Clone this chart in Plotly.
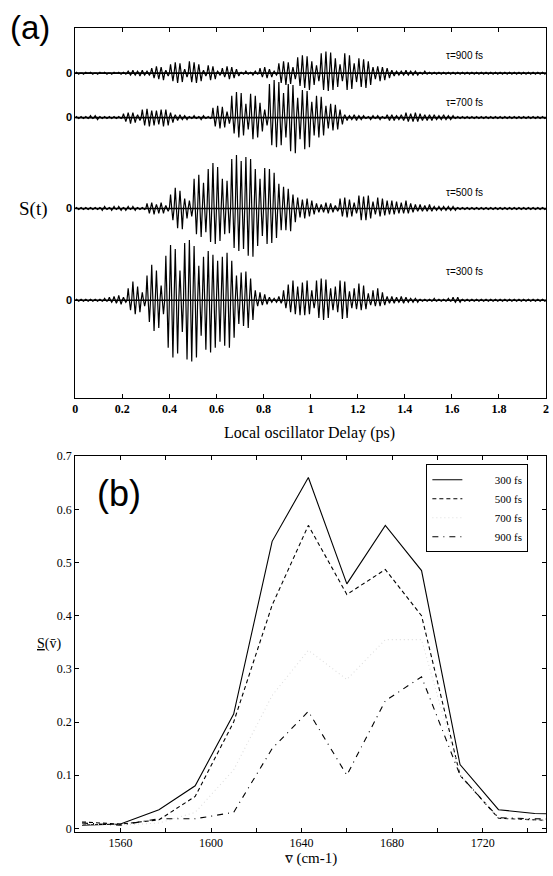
import plotly.graph_objects as go

# ---------------- Panel (a) data: spike envelopes (pixel-like units) every 0.02 ps ----------------
t_step = 0.02
taus = ["900", "700", "500", "300"]
offsets = [329, 284, 192, 99]          # zero baselines of each trace (axis units)
label_y = [347, 299, 208, 128]

up900 = [1,0,1,1,0,1,1,0,1,1, 1,2,3,2,3,2,5,7,6,3, 9,11,10,4,12,11,9,3,8,7, 2,5,7,6,4,1,2,1,2,5,
         6,4,2,10,12,11,6,16,18,17, 12,8,20,22,21,15,9,20,18,10, 15,14,12,6,7,6,5,3,2,2,
         3,2,2,1,2,1,1,1,1,1, 1,1,1,1,1,1,1,1,1,1, 1,1,1,1,1,1,1,1,1,1]
dn900 = [1,1,0,1,1,0,1,1,0,1, 1,2,2,3,2,2,5,6,7,3, 8,10,9,4,9,10,8,3,7,6, 2,4,6,5,3,1,1,2,1,4,
         5,4,2,10,12,11,6,13,15,17, 12,8,17,18,17,14,8,17,16,9, 14,15,12,6,8,7,5,3,2,2,
         2,2,2,1,1,1,1,1,1,1, 1,1,1,1,1,1,1,1,1,1, 1,1,1,1,1,1,1,1,1,1]

up700 = [1,1,1,2,2,1,1,1,1,1, 4,5,5,3,8,9,7,7,8,8, 5,3,3,2,1,2,1,2,1,10, 12,11,6,22,26,25,14,24,22,15,
         8,34,38,36,25,34,33,20,28,27, 16,22,21,12,14,13,8,3,2,3, 2,2,1,2,2,1,3,3,2,3,
         5,4,5,4,3,3,3,2,3,2, 2,1,1,1,1,1,1,1,1,1, 1,1,1,1,1,1,1,1,1,1]
dn700 = [1,1,1,1,2,1,1,1,1,1, 4,6,5,3,8,9,8,7,9,8, 5,3,2,2,1,1,2,1,1,9, 11,10,6,16,20,18,12,22,20,14,
         8,28,30,28,20,34,36,22,32,30, 18,20,18,11,13,12,7,3,2,3, 2,1,2,1,2,1,3,3,2,3,
         4,4,4,3,3,3,2,2,2,2, 1,1,1,1,1,1,1,1,1,1, 1,1,1,1,1,1,1,1,1,1]

up500 = [1,1,1,1,1,1,2,1,2,2, 1,2,2,1,1,5,6,4,6,3, 14,21,18,10,8,30,34,26,40,46, 42,30,28,50,54,48,52,50,40,30,
         41,40,36,25,22,20,14,11,9,10, 8,5,4,6,5,3,10,11,9,6, 13,12,13,7,11,10,8,8,7,6,
         8,5,4,4,3,4,2,2,2,2, 2,1,1,1,1,1,1,1,1,1, 1,1,1,1,1,1,1,1,1,1]
dn500 = [1,1,1,1,1,2,1,2,1,2, 2,1,2,1,1,5,6,5,5,3, 12,20,21,10,8,26,29,24,34,36, 33,26,25,40,43,41,48,49,38,28,
         36,35,30,22,22,23,14,9,10,8, 6,4,4,5,4,3,8,9,8,5, 12,12,10,6,8,7,6,6,5,5,
         5,4,3,3,3,3,2,2,2,2, 2,1,1,1,1,1,1,1,1,1, 1,1,1,1,1,1,1,1,1,1]

up300 = [1,1,1,1,1,1,2,3,4,5, 3,12,19,14,8,25,36,30,15,45, 56,52,30,58,61,55,35,44,50,46, 40,44,48,40,25,28,29,22,10,8,
         6,3,2,4,10,16,20,14,18,20, 10,20,22,21,12,14,20,19,9,12, 17,15,7,10,12,8,4,4,3,4,
         3,2,2,1,1,1,2,1,1,2, 3,3,1,1,1,1,1,1,1,1, 1,1,1,1,1,1,1,1,1,1]
dn300 = [1,1,1,1,1,1,1,2,3,4, 2,10,14,12,6,22,31,28,14,48, 58,54,32,60,62,58,36,50,53,48, 42,46,48,38,24,26,28,20,6,5,
         4,2,2,3,8,12,14,15,15,14, 8,18,20,18,10,12,19,18,8,9, 10,9,5,6,6,5,3,3,2,3,
         2,2,2,1,1,1,1,1,1,1, 2,2,1,1,1,1,1,1,1,1, 1,1,1,1,1,1,1,1,1,1]

ups = [up900, up700, up500, up300]
dns = [dn900, dn700, dn500, dn300]

a_xticks = [0, 0.2, 0.4, 0.6, 0.8, 1.0, 1.2, 1.4, 1.6, 1.8, 2.0]
a_xticktext = ["0", "0.2", "0.4", "0.6", "0.8", "1", "1.2", "1.4", "1.6", "1.8", "2"]

# ---------------- Panel (b) data ----------------
nu = [1543, 1560, 1577, 1593, 1610, 1627, 1643, 1660, 1677, 1693, 1710, 1727, 1743, 1760]
s300 = [0.006, 0.008, 0.035, 0.08, 0.215, 0.54, 0.66, 0.46, 0.57, 0.485, 0.12, 0.035, 0.028, 0.026]
s500 = [0.012, 0.008, 0.016, 0.06, 0.20, 0.42, 0.57, 0.44, 0.487, 0.40, 0.10, 0.019, 0.016, 0.013]
s700 = [0.008, 0.006, 0.010, 0.03, 0.11, 0.25, 0.335, 0.28, 0.355, 0.355, 0.10, 0.02, 0.015, 0.012]
s900 = [0.010, 0.006, 0.018, 0.018, 0.03, 0.15, 0.22, 0.10, 0.24, 0.285, 0.10, 0.02, 0.018, 0.016]
b_names = ["300 fs", "500 fs", "700 fs", "900 fs"]
b_series = [s300, s500, s700, s900]
b_dash = ["solid", "4px,3px", "1px,3px", "6px,5px,1px,5px"]
b_color = ["black", "black", "#dedede", "black"]

b_xticks = [1560, 1580, 1600, 1620, 1640, 1660, 1680, 1700, 1720, 1740]
b_xticktext = ["1560", "", "1600", "", "1640", "", "1680", "", "1720", ""]
b_yticks = [0, 0.1, 0.2, 0.3, 0.4, 0.5, 0.6, 0.7]

SERIF = "Liberation Serif"
SANS = "Liberation Sans"

fig = go.Figure()

# Panel (a) traces
for tau, off, up, dn in zip(taus, offsets, ups, dns):
    xs, ys = [], []
    for k in range(len(up)):
        t0 = k * t_step
        xs += [t0, t0 + 0.005, t0 + 0.010, t0 + 0.015]
        ys += [off, off + up[k], off, off - dn[k]]
    xs.append(2.0)
    ys.append(off)
    fig.add_trace(go.Scatter(x=xs, y=ys, mode="lines", line=dict(color="black", width=1.2),
                             showlegend=False, xaxis="x", yaxis="y", hoverinfo="skip"))
    fig.add_trace(go.Scatter(x=[0, 2], y=[off, off], mode="lines", line=dict(color="black", width=1.6),
                             showlegend=False, xaxis="x", yaxis="y", hoverinfo="skip"))

# Panel (b) traces
pad = "\u2002" * 5
for name, s, d, c in zip(b_names, b_series, b_dash, b_color):
    fig.add_trace(go.Scatter(x=nu, y=s, mode="lines", name=pad + name,
                             line=dict(color=c, width=1.1, dash=d),
                             xaxis="x2", yaxis="y2"))

W, H = 553, 876
xl, xr = 73 / W, 549 / W

axis_common = dict(showline=True, linecolor="black", linewidth=1, mirror="ticks",
                   ticks="inside", ticklen=4, tickcolor="black", showgrid=False, zeroline=False)

fig.update_layout(
    width=W, height=H,
    margin=dict(l=0, r=0, t=0, b=0),
    paper_bgcolor="white", plot_bgcolor="white",
    xaxis=dict(domain=[xl, xr], range=[0, 2], anchor="y", tickvals=a_xticks, ticktext=a_xticktext,
               tickfont=dict(family=SERIF, size=12, color="black", weight="bold"), **axis_common),
    yaxis=dict(domain=[1 - 396 / H, 1 - 21 / H], range=[0, 375], anchor="x",
               tickvals=offsets, ticktext=["0"] * 4,
               tickfont=dict(family=SANS, size=11, color="black", weight="bold"), **axis_common),
    xaxis2=dict(domain=[xl, xr], range=[1540, 1748], anchor="y2", tickvals=b_xticks, ticktext=b_xticktext,
                tickfont=dict(family=SERIF, size=12, color="black"), **axis_common),
    yaxis2=dict(domain=[1 - 835 / H, 1 - 455 / H], range=[-0.006, 0.7], anchor="x2",
                tickvals=b_yticks, ticktext=["0", "0.1", "0.2", "0.3", "0.4", "0.5", "0.6", "0.7"],
                tickfont=dict(family=SERIF, size=12, color="black"), **axis_common),
    legend=dict(x=428 / W, y=1 - 463 / H, xanchor="left", yanchor="top",
                bgcolor="white", bordercolor="black", borderwidth=1,
                font=dict(family=SERIF, size=11, color="black"),
                itemwidth=30, tracegroupgap=0),
    showlegend=True,
)

def pa(x, y, text, family, size):
    return dict(x=x / W, y=1 - y / H, xref="paper", yref="paper", text=text, showarrow=False,
                xanchor="center", yanchor="middle", font=dict(family=family, size=size, color="black"))

ann = []
for tau, ly in zip(taus, label_y):
    ann.append(dict(x=1.655, y=ly, xref="x", yref="y", text=f"τ={tau} fs", showarrow=False,
                    xanchor="center", yanchor="middle",
                    font=dict(family=SANS, size=10, color="black")))
ann += [
    pa(27, 21, "(a)", SANS, 33),
    pa(117, 493, "(b)", SANS, 36),
    pa(31, 205, "S(t)", SERIF, 19),
    pa(310, 431, "Local oscillator Delay (ps)", SERIF, 16),
    pa(46, 645, "<u>S</u>(v\u0304)", SERIF, 14),
    pa(311, 862, "v\u0305 (cm-1)", SERIF, 15),
]
fig.update_layout(annotations=ann)

fig.write_html("out.html")
